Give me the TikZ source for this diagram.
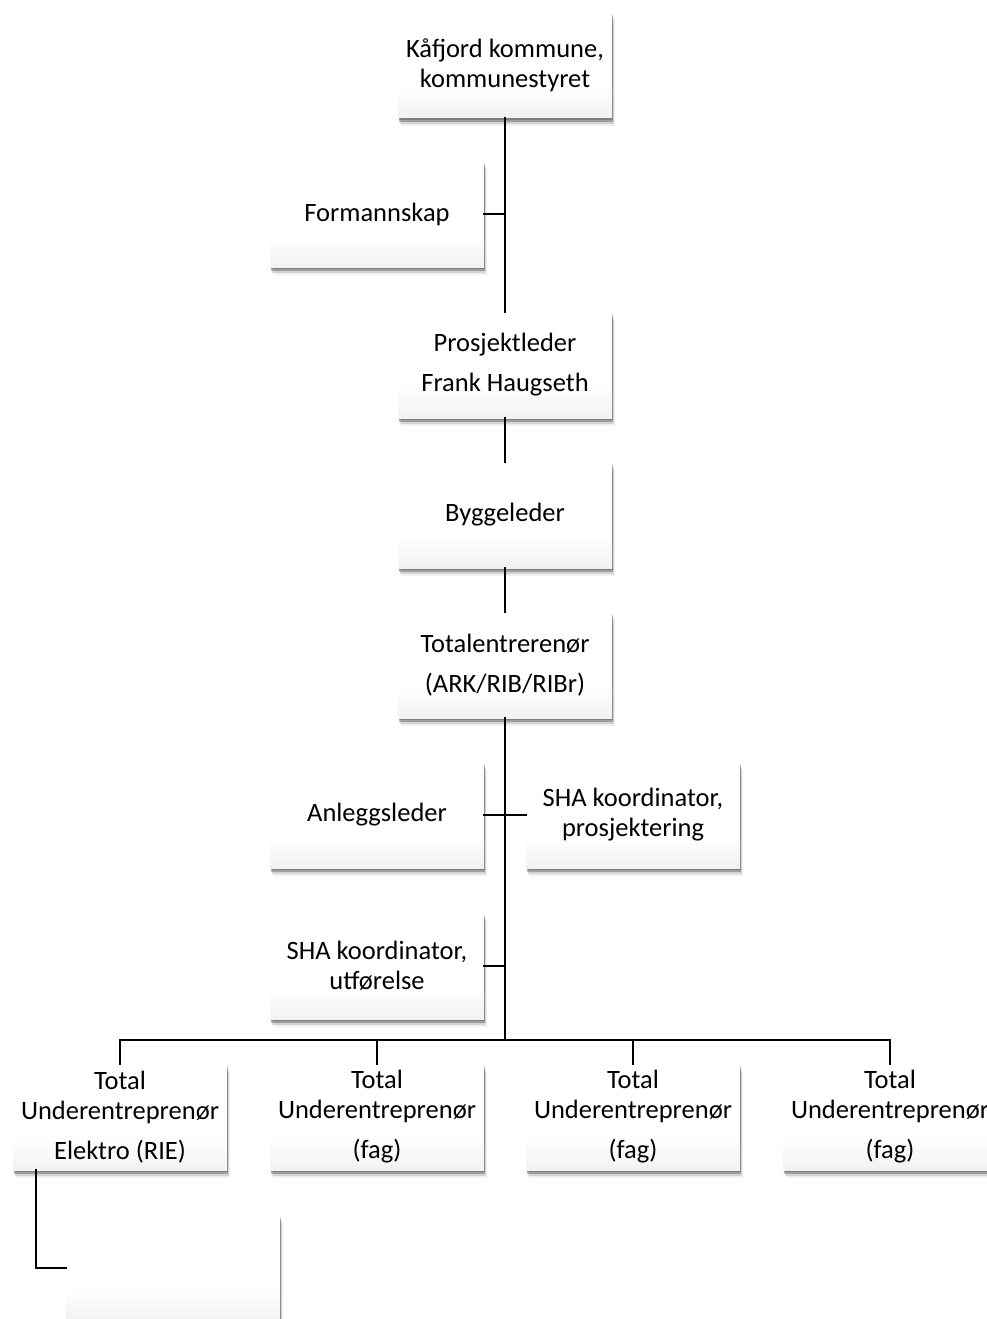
\documentclass[tikz,border=0pt]{standalone}
\usepackage{fontspec}
\setmainfont{Carlito}
\usetikzlibrary{shadows}
\pgfdeclareverticalshading{boxfill}{100bp}{color(0bp)=(black!14); color(40bp)=(white); color(100bp)=(white)}

\tikzset{
  orgbox/.style={shading=boxfill, minimum width=214pt, minimum height=106pt,
    inner sep=2pt, align=center, font=\fontsize{26.5}{30}\selectfont,
    drop shadow={shadow xshift=3pt, shadow yshift=-8pt, fill=black, opacity=.06},
    drop shadow={shadow xshift=2pt, shadow yshift=-6pt, fill=black, opacity=.12},
    drop shadow={shadow xshift=1pt, shadow yshift=-4pt, fill=black, opacity=.25},
    drop shadow={shadow xshift=1pt, shadow yshift=-2pt, fill=black, opacity=.2}},
  link/.style={line width=2.8pt, line cap=rect}
}

\begin{document}
\begin{tikzpicture}[x=1pt, y=-1pt]
    \useasboundingbox (0,0) rectangle (987,1319);

    % main column
    \node [orgbox] (kommune) at (505,65) {Kåfjord kommune,\\kommunestyret};
    \node [orgbox] (formann) at (377,214) {Formannskap};
    \node [orgbox] (prosjekt) at (505,365) {Prosjektleder\\[10pt]Frank Haugseth};
    \node [orgbox] (bygg) at (505,515) {Byggeleder};
    \node [orgbox] (total) at (505,665) {Totalentrerenør\\[10pt](ARK/RIB/RIBr)};

    % staff boxes
    \node [orgbox] (anlegg) at (377,815) {Anleggsleder};
    \node [orgbox] (shaprosj) at (633,815) {SHA koordinator,\\prosjektering};
    \node [orgbox] (shautf) at (377,966) {SHA koordinator,\\utførelse};

    % subcontractors
    \node [orgbox] (under1) at (120,1117) {Total\\Underentreprenør\\[10pt]Elektro (RIE)};
    \node [orgbox] (under2) at (377,1117) {Total\\Underentreprenør\\[10pt](fag)};
    \node [orgbox] (under3) at (633,1117) {Total\\Underentreprenør\\[10pt](fag)};
    \node [orgbox] (under4) at (890,1117) {Total\\Underentreprenør\\[10pt](fag)};
    \node [orgbox] (tom) at (173,1268) {};

    \coordinate (bus) at (505,1040);

    \draw [link] (kommune) -- (prosjekt);
    \draw [link] (prosjekt) -- (bygg);
    \draw [link] (bygg) -- (total);
    \draw [link] (total) -- (bus);
    \draw [link] (formann.east) -- (formann.east -| bus);
    \draw [link] (anlegg.east) -- (shaprosj.west);
    \draw [link] (shautf.east) -- (shautf.east -| bus);

    \draw [link] (under1.north) |- (bus) -| (under4.north);
    \draw [link] (under2.north) -- (under2.north |- bus);
    \draw [link] (under3.north) -- (under3.north |- bus);

    \draw [link] ([xshift=-84pt]under1.south) |- (tom.west);
\end{tikzpicture}
\end{document}
